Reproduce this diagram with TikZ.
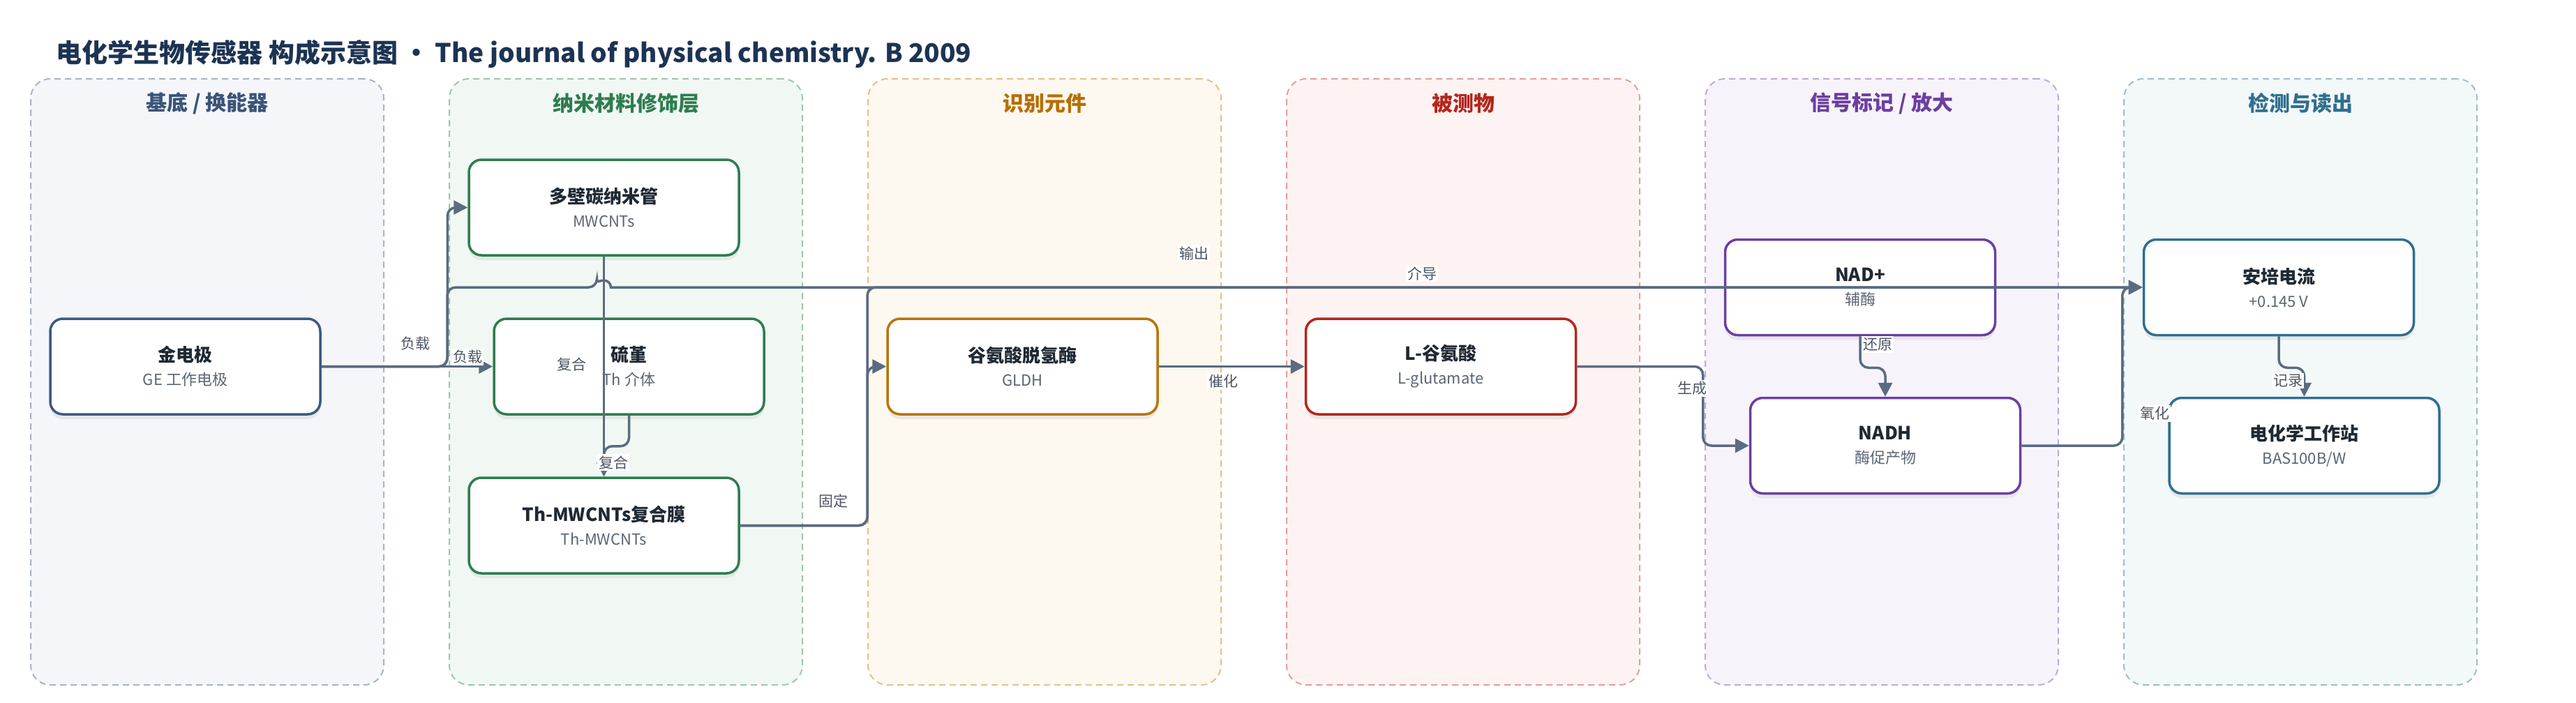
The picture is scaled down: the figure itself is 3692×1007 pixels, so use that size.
\documentclass[tikz,border=0pt]{standalone}
\usepackage{fontspec}
\setmainfont{Noto Sans CJK SC}
\usetikzlibrary{arrows.meta,shadows}

\definecolor{titlecol}{HTML}{1C3354}
\definecolor{textcol}{HTML}{1F2933}
\definecolor{subcol}{HTML}{5B6574}
\definecolor{edgecol}{HTML}{5B6B80}
\definecolor{labcol}{HTML}{4B5563}
% lane colours
\definecolor{baseFill}{HTML}{F4F6FA}\definecolor{baseLine}{HTML}{A7B4C8}
\definecolor{baseText}{HTML}{3B5478}\definecolor{baseBox}{HTML}{3D5A80}
\definecolor{nanoFill}{HTML}{F1F8F3}\definecolor{nanoLine}{HTML}{9CC8A9}
\definecolor{nanoText}{HTML}{2E7D4F}\definecolor{nanoBox}{HTML}{2E7D4F}
\definecolor{recFill}{HTML}{FDF8F0}\definecolor{recLine}{HTML}{E5C08A}
\definecolor{recText}{HTML}{B86E00}\definecolor{recBox}{HTML}{B8740A}
\definecolor{anaFill}{HTML}{FDF3F2}\definecolor{anaLine}{HTML}{E3A09A}
\definecolor{anaText}{HTML}{B3261E}\definecolor{anaBox}{HTML}{B3261E}
\definecolor{sigFill}{HTML}{F7F3FB}\definecolor{sigLine}{HTML}{C2A8DC}
\definecolor{sigText}{HTML}{6B3FA0}\definecolor{sigBox}{HTML}{6B3FA0}
\definecolor{detFill}{HTML}{F3F8F9}\definecolor{detLine}{HTML}{9CBFCC}
\definecolor{detText}{HTML}{2F6F8F}\definecolor{detBox}{HTML}{2F6F8F}

\newcommand{\subline}[1]{{\fontsize{22}{34}\selectfont\mdseries\color{subcol}#1}}

\begin{document}
\begin{tikzpicture}[x=1pt,y=-1pt,
	lane/.style={draw=#1Line,fill=#1Fill,line width=2pt,dash pattern=on 9pt off 6pt,
		rounded corners=28pt,minimum width=506pt,minimum height=869pt},
	lanetitle/.style={text=#1Text,font=\fontsize{30}{36}\selectfont\bfseries},
	box/.style={draw=#1Box,line width=3.5pt,fill=white,rounded corners=18pt,
		minimum width=387pt,minimum height=137pt,align=center,
		font=\fontsize{26}{34}\selectfont,text=textcol,
		drop shadow={opacity=0.12,shadow xshift=0pt,shadow yshift=-7pt}},
	flow/.style={draw=edgecol,line width=3.5pt,rounded corners=12pt,
		-{Triangle[length=20pt,width=20pt]}},
	lbl/.style={font=\fontsize{21}{24}\selectfont,text=labcol,fill=white,inner sep=2pt}]

	\useasboundingbox (0,0) rectangle (3692,1007);

	% title
	\node[anchor=base west,text=titlecol,font=\fontsize{37}{44}\selectfont\bfseries] (title) at (77,89)
		{电化学生物传感器 构成示意图 • The journal of physical chemistry. B 2009};

	% lanes
	\node[lane=base] (laneA) at (297,547.5) {};
	\node[lane=nano] (laneB) at (897,547.5) {};
	\node[lane=rec]  (laneC) at (1497,547.5) {};
	\node[lane=ana]  (laneD) at (2097,547.5) {};
	\node[lane=sig]  (laneE) at (2697,547.5) {};
	\node[lane=det]  (laneF) at (3297,547.5) {};
	\node[lanetitle=base] (laneAt) at (297,148) {基底 / 换能器};
	\node[lanetitle=nano] (laneBt) at (897,148) {纳米材料修饰层};
	\node[lanetitle=rec]  (laneCt) at (1497,148) {识别元件};
	\node[lanetitle=ana]  (laneDt) at (2097,148) {被测物};
	\node[lanetitle=sig]  (laneEt) at (2697,148) {信号标记 / 放大};
	\node[lanetitle=det]  (laneFt) at (3297,148) {检测与读出};

	% blocks
	\node[box=base] (gold)  at (265.5,525.5) {\textbf{金电极}\\\subline{GE 工作电极}};
	\node[box=nano] (mwcnt) at (865.5,297.5) {\textbf{多壁碳纳米管}\\\subline{MWCNTs}};
	\node[box=nano] (thio)  at (901.5,525.5) {\textbf{硫堇}\\\subline{Th 介体}};
	\node[box=nano] (film)  at (865.5,753.5) {\textbf{Th-MWCNTs复合膜}\\\subline{Th-MWCNTs}};
	\node[box=rec]  (gldh)  at (1465.5,525.5) {\textbf{谷氨酸脱氢酶}\\\subline{GLDH}};
	\node[box=ana]  (glu)   at (2065,525.5) {\textbf{L-谷氨酸}\\\subline{L-glutamate}};
	\node[box=sig]  (nadp)  at (2666,412) {\textbf{NAD+}\\\subline{辅酶}};
	\node[box=sig]  (nadh)  at (2702,639) {\textbf{NADH}\\\subline{酶促产物}};
	\node[box=det]  (amp)   at (3266,412) {\textbf{安培电流}\\\subline{+0.145 V}};
	\node[box=det]  (stat)  at (3302.5,639) {\textbf{电化学工作站}\\\subline{BAS100B/W}};

	\coordinate (busA) at (641,412);
	\coordinate (busB) at (1243,412);
	\coordinate (jump) at (865.5,412);

	% connectors
	\draw[flow] (gold.east) -| ([xshift=-29pt]mwcnt.west) -- (mwcnt.west);
	\draw[flow] (gold.east) -- (thio.west);
	\draw[flow] (gold.east) -| (busA) -- ([xshift=-10pt]jump) [sharp corners]
		arc[start angle=180,end angle=0,radius=10pt] -- (amp.west);
	\draw[flow] (mwcnt.south) -- (film.north);
	\draw[flow] (thio.south) -- ++(0,44) -| (film.north);
	\draw[flow] (film.east) -| ([xshift=-27pt]gldh.west) -- (gldh.west);
	\draw[flow] (film.east) -| (busB) -- (amp.west);
	\draw[flow] (gldh.east) -- (glu.west);
	\draw[flow] (glu.east) -| ([xshift=-66pt]nadh.west) -- (nadh.west);
	\draw[flow] (nadp.south) -- ++(0,45) -| (nadh.north);
	\draw[flow] (nadh.east) -| ([xshift=-29pt]amp.west) -- (amp.west);
	\draw[flow] (amp.south) -- ++(0,45) -| (stat.north);

	% labels
	\node[lbl] (l1)  at (595,493)  {负载};
	\node[lbl] (l2)  at (670,512)  {负载};
	\node[lbl] (l3)  at (1711,363) {输出};
	\node[lbl] (l4)  at (2038,392) {介导};
	\node[lbl] (l5)  at (819,522)  {复合};
	\node[lbl] (l6)  at (879,663)  {复合};
	\node[lbl] (l7)  at (1194,718) {固定};
	\node[lbl] (l8)  at (1753,547) {催化};
	\node[lbl] (l9)  at (2425,557) {生成};
	\node[lbl] (l10) at (2691,494) {还原};
	\node[lbl] (l11) at (3088,593) {氧化};
	\node[lbl] (l12) at (3279,546) {记录};

\end{tikzpicture}
\end{document}
